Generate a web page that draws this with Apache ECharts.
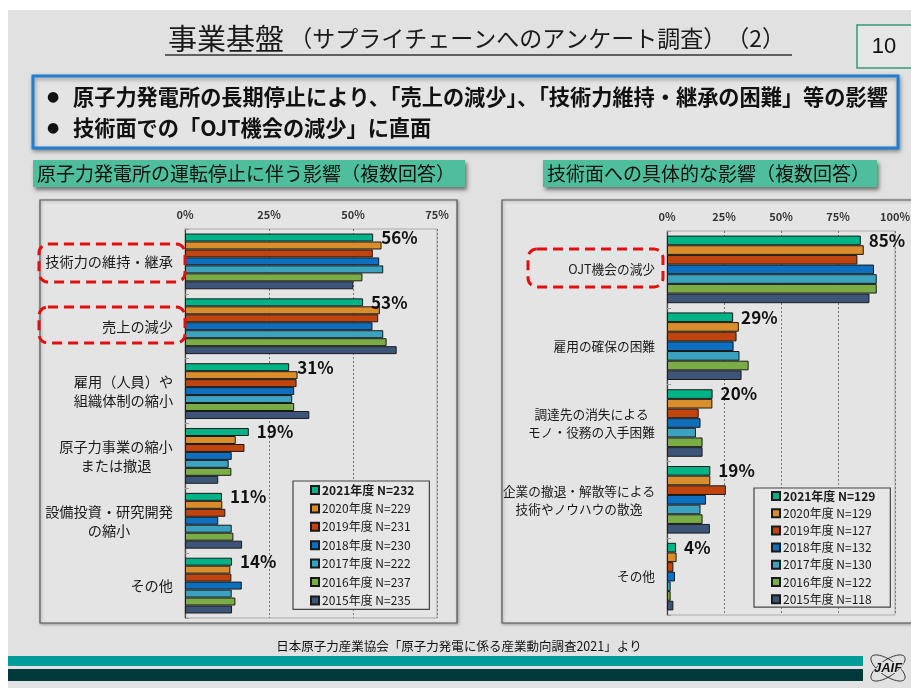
<!DOCTYPE html>
<html>
<head>
<meta charset="utf-8">
<script src="https://cdn.jsdelivr.net/npm/echarts@6/dist/echarts.min.js"></script>
<style>
  html, body { margin: 0; padding: 0; background: #fff; }
  #main { width: 911px; height: 688px; }
</style>
</head>
<body>
<div id="main"></div>
<script>
// 年度と回答数
const years = ['2021年度', '2020年度', '2019年度', '2018年度', '2017年度', '2016年度', '2015年度'];
const leftN = [232, 229, 231, 230, 222, 237, 235];
const rightN = [129, 129, 127, 132, 130, 122, 118];
const colors = ['#00b386', '#d98e2b', '#c1440e', '#0f6fbf', '#3ba2bf', '#7bad47', '#3c5579'];

// 左：原子力発電所の運転停止に伴う影響
const leftCats = ['技術力の維持・継承', '売上の減少', '雇用（人員）や\n組織体制の縮小',
  '原子力事業の縮小\nまたは撤退', '設備投資・研究開発\nの縮小', 'その他'];
const L2021 = [56, 53, 31, 19, 11, 14];
const L2020 = [58.5, 58, 33.5, 15.1, 11.1, 13.5];
const L2019 = [55.9, 57.5, 33.2, 17.7, 12, 13.8];
const L2018 = [57.8, 55.8, 32.5, 13.9, 9.9, 16.9];
const L2017 = [59, 59, 31.9, 13, 13.9, 13.9];
const L2016 = [52.8, 60, 32.5, 13.8, 14.4, 15];
const L2015 = [50.1, 63, 37, 9.9, 17, 14];
const leftVals = [L2021, L2020, L2019, L2018, L2017, L2016, L2015];

// 右：技術面への具体的な影響
const rightCats = ['OJT機会の減少', '雇用の確保の困難', '調達先の消失による\nモノ・役務の入手困難',
  '企業の撤退・解散等による\n技術やノウハウの散逸', 'その他'];
const R2021 = [85, 29, 20, 19, 4];
const R2020 = [86.3, 31.5, 19.9, 19, 4.2];
const R2019 = [83.5, 30.5, 13.9, 25.8, 2.8];
const R2018 = [90.8, 29.2, 14.7, 17.1, 3.5];
const R2017 = [92, 31.8, 12.7, 14.7, 1.6];
const R2016 = [92, 35.8, 15.6, 15.6, 1.6];
const R2015 = [88.8, 32.7, 15.6, 18.8, 2.8];
const rightVals = [R2021, R2020, R2019, R2018, R2017, R2016, R2015];

const xTicksLeft = [0, 25, 50, 75];
const xTicksRight = [0, 25, 50, 75, 100];

const FONT = '"Noto Sans CJK JP", sans-serif';

// 複数行ラベルは行ごとに中央揃え
const lineW = (c, fs) => Math.round(Math.max(...c.split('\n').map(l => l.length)) * fs);
const richFor = (cats, fs, lh) => {
  const rich = {};
  cats.forEach(c => {
    if (c.includes('\n')) {
      const w = lineW(c, fs);
      rich['w' + w] = { width: w, align: 'center', fontSize: fs, lineHeight: lh, color: '#1a1a1a', fontFamily: FONT };
    }
  });
  return rich;
};
const fmtFor = fs => v => {
  if (!v.includes('\n')) return v;
  const w = lineW(v, fs);
  return v.split('\n').map(l => '{w' + w + '|' + l + '}').join('\n');
};

const chart = echarts.init(document.getElementById('main'));

const mkSeries = (vals, nList, axisIdx, catGap) => vals.map((d, i) => ({
  name: years[i] + ' N=' + nList[i],
  type: 'bar',
  xAxisIndex: axisIdx,
  yAxisIndex: axisIdx,
  data: d,
  barGap: '0%',
  barCategoryGap: catGap,
  itemStyle: { color: colors[i], borderColor: '#1a1a1a', borderWidth: 1 },
  label: i === 0 ? {
    show: true, position: 'right', distance: 8,
    formatter: p => Math.round(p.value) + '%',
    fontSize: 17, fontWeight: 'bold', color: '#111', fontFamily: FONT
  } : { show: false },
  emphasis: { disabled: true }
}));

const xAxisBase = (max, gi) => ({
  gridIndex: gi, type: 'value', position: 'top', min: 0, max: max, interval: 25,
  axisLine: { show: false }, axisTick: { show: false },
  axisLabel: { formatter: '{value}%', fontSize: 11, fontWeight: 'bold', color: '#333', margin: 9, fontFamily: FONT },
  splitLine: { show: true, lineStyle: { color: '#777', type: [2, 2], width: 1 } }
});
const yAxisBase = (cats, gi, fs, lh) => ({
  gridIndex: gi, type: 'category', data: cats, inverse: true,
  axisLine: { show: true, lineStyle: { color: '#444', width: 1.2 } },
  axisTick: { show: true, inside: true, length: 4, lineStyle: { color: '#999' } },
  axisLabel: { fontSize: fs, lineHeight: lh, color: '#1a1a1a', margin: 12, fontFamily: FONT,
    formatter: fmtFor(fs), rich: richFor(cats, fs, lh) }
});

const legendBase = (nList, left, top, gap, pad) => ({
  orient: 'vertical', left: left, top: top, itemGap: gap, padding: pad,
  itemWidth: 8, itemHeight: 8, icon: 'rect',
  borderColor: '#444', borderWidth: 1.2, backgroundColor: '#e6e6e6',
  textStyle: { fontSize: 12, lineHeight: 12, color: '#1a1a1a', fontFamily: FONT, padding: [0, 0, 0, -2] },
  selectedMode: false,
  data: years.map((y, i) => i === 0
    ? { name: y + ' N=' + nList[i], textStyle: { fontWeight: 'bold' } }
    : { name: y + ' N=' + nList[i] })
});

const dashBox = (x, y, w, h) => ({
  type: 'rect', z: 100,
  shape: { x: x, y: y, width: w, height: h, r: 9 },
  style: { fill: 'none', stroke: '#e01010', lineWidth: 3, lineDash: [10, 6] }
});

chart.setOption({
  animation: false,
  textStyle: { fontFamily: FONT },
  grid: [
    { left: 185, top: 229, width: 252, height: 389, show: true, borderColor: '#aaa', borderWidth: 1, outerBoundsMode: 'none' },
    { left: 667, top: 231, width: 228, height: 384, show: true, borderColor: '#aaa', borderWidth: 1, outerBoundsMode: 'none' }
  ],
  xAxis: [xAxisBase(xTicksLeft[xTicksLeft.length - 1], 0), xAxisBase(xTicksRight[xTicksRight.length - 1], 1)],
  yAxis: [yAxisBase(leftCats, 0, 14.2, 19), yAxisBase(rightCats, 1, 12.7, 18)],
  legend: [legendBase(leftN, 293, 481, 6.4, [3, 15, 3, 17]), legendBase(rightN, 754, 488, 5.2, [2, 15, 2, 17])],
  series: [...mkSeries(leftVals, leftN, 0, '14%'), ...mkSeries(rightVals, rightN, 1, '12%')],
  graphic: [
    // スライド背景
    { type: 'rect', z: -10, shape: { x: 8, y: 10, width: 903, height: 678 }, style: { fill: '#e1e1e1' } },
    // タイトル
    { type: 'text', left: 168, top: 24, style: {
        text: '{a|事業基盤}{b| （サプライチェーンへのアンケート調査）　（2）}',
        rich: { a: { fontSize: 29, fontFamily: FONT, fill: '#1a1a1a' }, b: { fontSize: 23, fontFamily: FONT, fill: '#1a1a1a' } } } },
    { type: 'line', shape: { x1: 165, y1: 55, x2: 792, y2: 55 }, style: { stroke: '#333', lineWidth: 1.5 } },
    // ページ番号
    { type: 'rect', shape: { x: 857, y: 25, width: 60, height: 43 }, style: { fill: '#e6e6e6', stroke: '#3a9878', lineWidth: 1.5 } },
    { type: 'text', x: 884, y: 47, style: { text: '10', fontSize: 22, fontFamily: '"Liberation Sans", sans-serif', fill: '#111', align: 'center', verticalAlign: 'middle' } },
    // 要約ボックス
    { type: 'rect', shape: { x: 33, y: 76, width: 865, height: 72 }, style: { fill: '#e4e4e4', stroke: '#1f7fd0', lineWidth: 3, shadowBlur: 4, shadowOffsetX: 1, shadowOffsetY: 2, shadowColor: 'rgba(0,0,0,0.35)' } },
    { type: 'text', x: 47, y: 97, style: { text: '●', fontSize: 14, fontFamily: '"DejaVu Sans", sans-serif', fill: '#111', verticalAlign: 'middle' } },
    { type: 'text', x: 73, y: 97, style: { text: '原子力発電所の長期停止により、「売上の減少」、「技術力維持・継承の困難」等の影響', fontSize: 21.2, fontWeight: 'bold', fontFamily: FONT, fill: '#111', verticalAlign: 'middle' } },
    { type: 'text', x: 47, y: 128, style: { text: '●', fontSize: 14, fontFamily: '"DejaVu Sans", sans-serif', fill: '#111', verticalAlign: 'middle' } },
    { type: 'text', x: 73, y: 128, style: { text: '技術面での「OJT機会の減少」に直面', fontSize: 21.2, fontWeight: 'bold', fontFamily: FONT, fill: '#111', verticalAlign: 'middle' } },
    // 見出し
    { type: 'rect', shape: { x: 33, y: 160, width: 432, height: 27 }, style: { fill: '#4fbe9c', shadowBlur: 4, shadowOffsetX: 2, shadowOffsetY: 3, shadowColor: 'rgba(0,0,0,0.5)' } },
    { type: 'text', x: 37, y: 174, style: { text: '原子力発電所の運転停止に伴う影響（複数回答）', fontSize: 19, fontFamily: FONT, fill: '#111', verticalAlign: 'middle' } },
    { type: 'rect', shape: { x: 543, y: 160, width: 334, height: 27 }, style: { fill: '#4fbe9c', shadowBlur: 4, shadowOffsetX: 2, shadowOffsetY: 3, shadowColor: 'rgba(0,0,0,0.5)' } },
    { type: 'text', x: 547, y: 174, style: { text: '技術面への具体的な影響（複数回答）', fontSize: 19, fontFamily: FONT, fill: '#111', verticalAlign: 'middle' } },
    // グラフ枠
    { type: 'rect', z: -5, shape: { x: 40, y: 200, width: 417, height: 423 }, style: { fill: '#e4e4e4', stroke: '#555', lineWidth: 1.2, shadowBlur: 3, shadowOffsetX: 1, shadowOffsetY: 1, shadowColor: 'rgba(0,0,0,0.3)' } },
    { type: 'rect', z: -5, shape: { x: 502, y: 200, width: 420, height: 423 }, style: { fill: '#e4e4e4', stroke: '#555', lineWidth: 1.2, shadowBlur: 3, shadowOffsetX: 1, shadowOffsetY: 1, shadowColor: 'rgba(0,0,0,0.3)' } },
    // 強調の破線枠
    dashBox(39, 244, 146, 38),
    dashBox(39, 307, 146, 36),
    dashBox(528, 249, 135, 38),
    // 出典
    { type: 'text', x: 459, y: 646, style: { text: '日本原子力産業協会「原子力発電に係る産業動向調査2021」より', fontSize: 12.5, fontFamily: FONT, fill: '#111', align: 'center', verticalAlign: 'middle' } },
    // 帯
    { type: 'rect', shape: { x: 8, y: 656, width: 855, height: 10 }, style: { fill: '#009c9a' } },
    { type: 'rect', shape: { x: 8, y: 669, width: 855, height: 12 }, style: { fill: '#00393a' } },
    // JAIF ロゴ
    { type: 'ellipse', shape: { cx: 888, cy: 668, rx: 20, ry: 8 }, rotation: 0.6, originX: 888, originY: 668, style: { fill: 'none', stroke: '#222', lineWidth: 0.8 } },
    { type: 'ellipse', shape: { cx: 888, cy: 668, rx: 20, ry: 8 }, rotation: -0.6, originX: 888, originY: 668, style: { fill: 'none', stroke: '#222', lineWidth: 0.8 } },
    { type: 'text', x: 888, y: 668, style: { text: 'JAIF', fontSize: 13, fontWeight: 'bold', fontStyle: 'italic', fontFamily: '"Liberation Sans", sans-serif', fill: '#111', align: 'center', verticalAlign: 'middle', stroke: '#e1e1e1', lineWidth: 2 } }
  ]
});
</script>
</body>
</html>
